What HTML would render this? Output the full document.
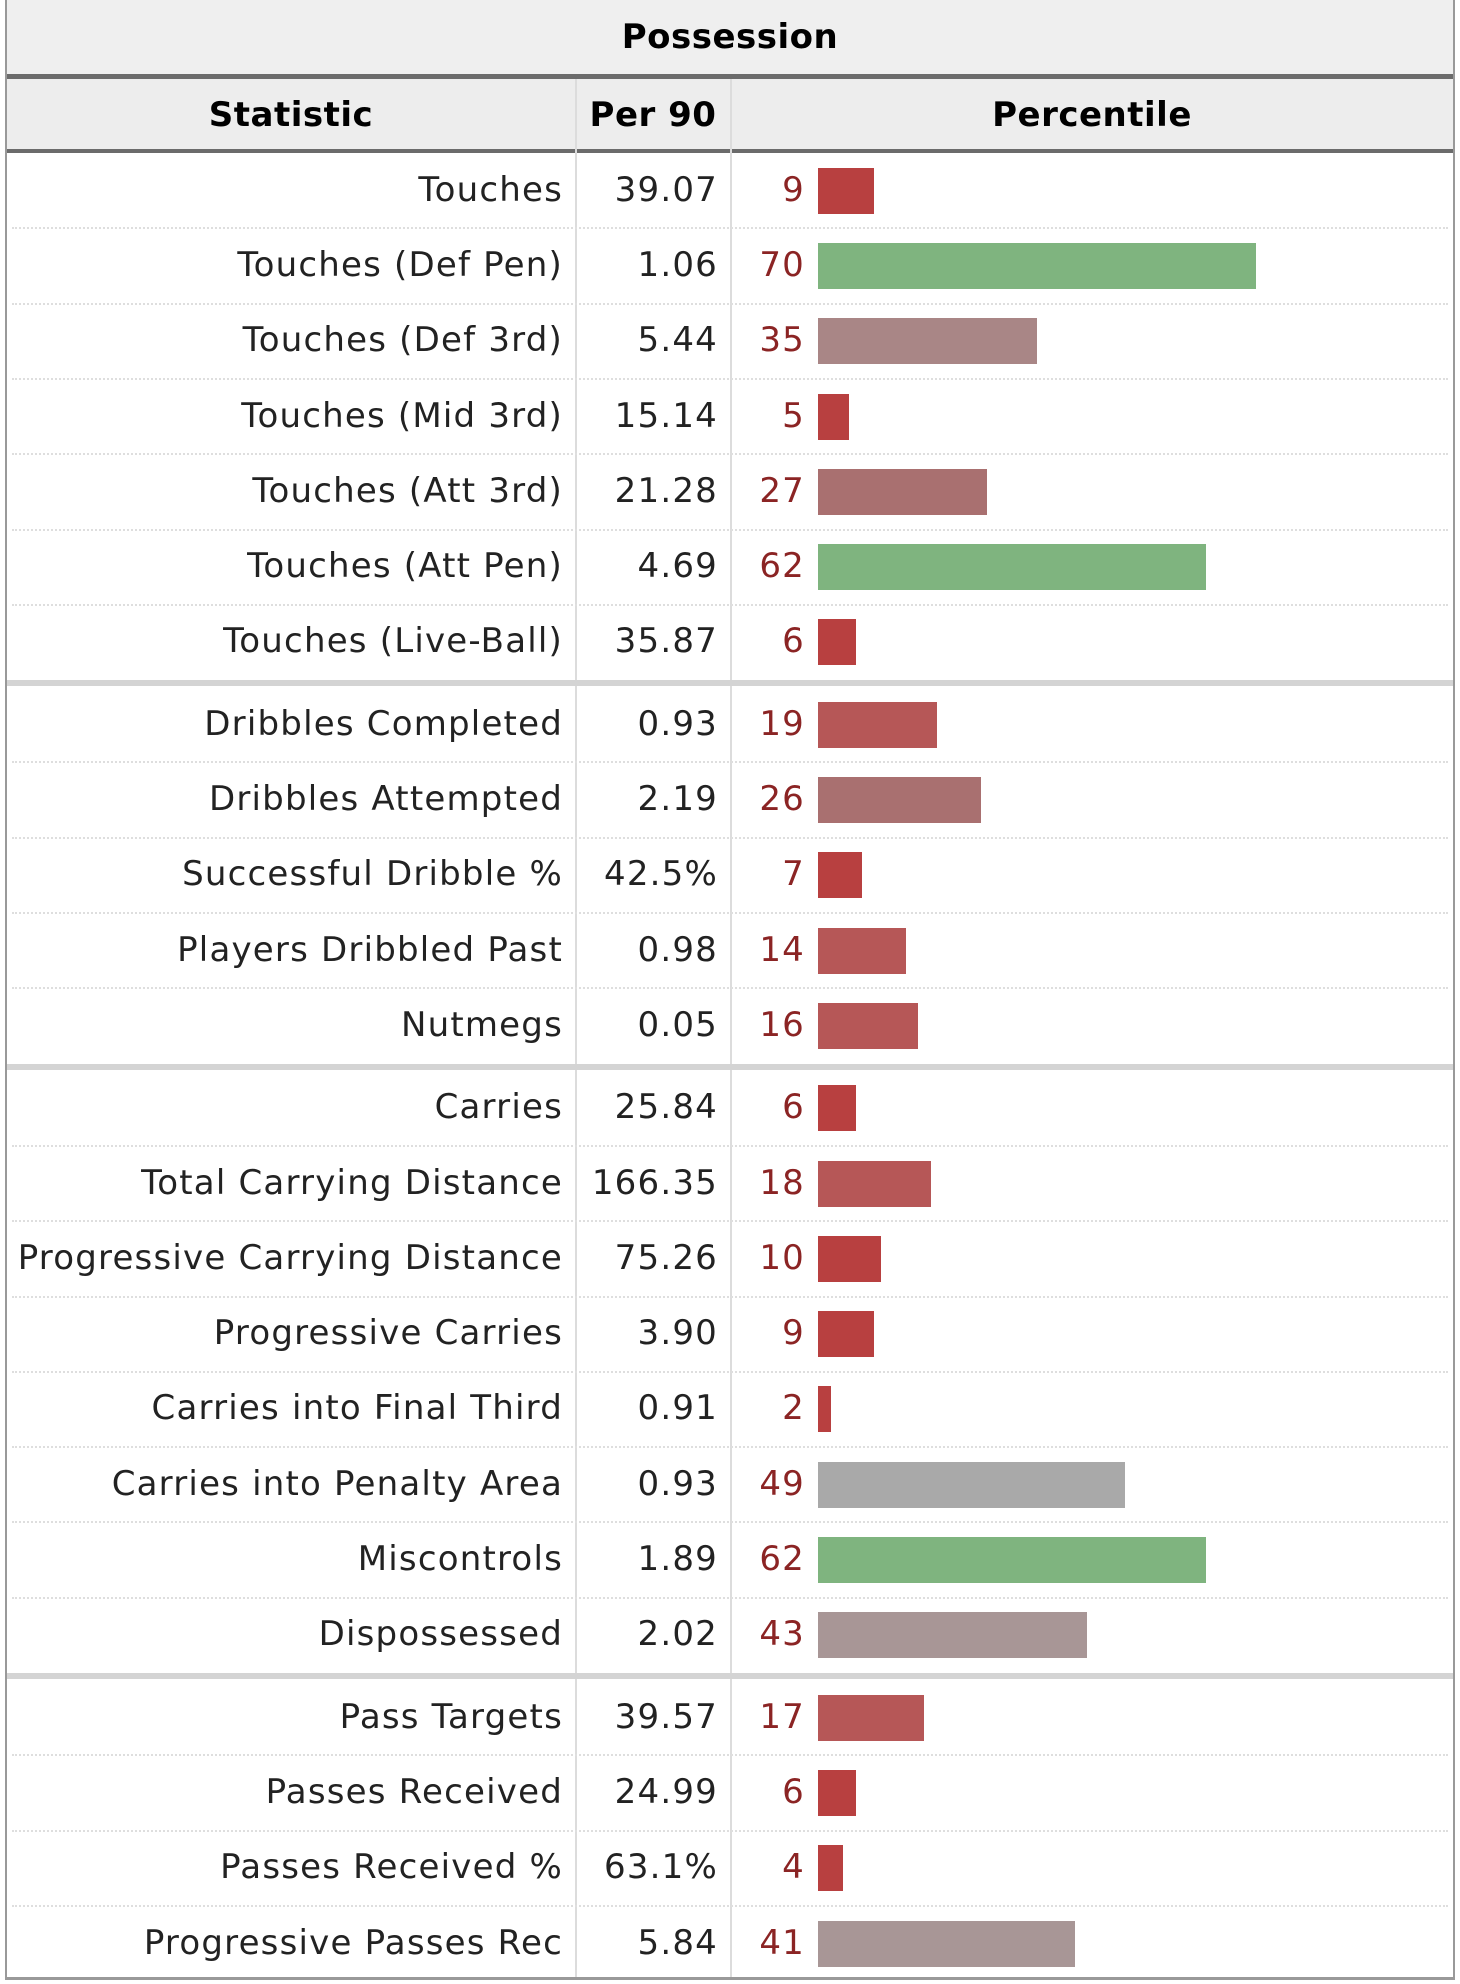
<!DOCTYPE html>
<html><head><meta charset="utf-8"><style>
html,body{margin:0;padding:0;background:#fff;}
#wrap{position:relative;width:1460px;height:1984px;overflow:hidden;font-family:"DejaVu Sans","Liberation Sans",sans-serif;}
.abs{position:absolute;}
.t{position:absolute;white-space:nowrap;font-size:34px;line-height:40px;letter-spacing:1.2px;}
</style></head><body>
<div id="wrap">
  <div class="abs" style="left:5px;top:0;width:1450px;height:1980px;border-left:2px solid #999;border-right:2px solid #999;border-bottom:3px solid #999;box-sizing:border-box"></div>
  <div class="abs" style="left:7px;top:0;width:1446px;height:74px;background:#efefef"></div>
  <div class="t" style="left:0;width:1460px;text-align:center;top:17px;font-weight:bold;letter-spacing:0.5px">Possession</div>
  <div class="abs" style="left:7px;top:74px;width:1446px;height:5px;background:#6b6b6b"></div>
  <div class="abs" style="left:7px;top:79px;width:1446px;height:70px;background:#ededed"></div>
  <div class="t" style="left:191px;width:200px;text-align:center;top:95px;font-weight:bold;letter-spacing:0.5px">Statistic</div>
  <div class="t" style="left:577px;width:152px;text-align:center;top:95px;font-weight:bold;letter-spacing:0.5px">Per 90</div>
  <div class="t" style="left:942px;width:300px;text-align:center;top:95px;font-weight:bold;letter-spacing:0.5px">Percentile</div>
  <div class="abs" style="left:7px;top:149px;width:1446px;height:4px;background:#6b6b6b"></div>
  <div class="abs" style="left:575px;top:79px;width:2px;height:1898px;background:#dcdcdc"></div>
  <div class="abs" style="left:730px;top:79px;width:2px;height:1898px;background:#dcdcdc"></div>
  <div id="rows"></div>
</div>
<script>
const stats = ["Touches","Touches (Def Pen)","Touches (Def 3rd)","Touches (Mid 3rd)","Touches (Att 3rd)","Touches (Att Pen)","Touches (Live-Ball)",
"Dribbles Completed","Dribbles Attempted","Successful Dribble %","Players Dribbled Past","Nutmegs",
"Carries","Total Carrying Distance","Progressive Carrying Distance","Progressive Carries","Carries into Final Third","Carries into Penalty Area","Miscontrols","Dispossessed",
"Pass Targets","Passes Received","Passes Received %","Progressive Passes Rec"];
const per90 = ["39.07","1.06","5.44","15.14","21.28","4.69","35.87",
"0.93","2.19","42.5%","0.98","0.05",
"25.84","166.35","75.26","3.90","0.91","0.93","1.89","2.02",
"39.57","24.99","63.1%","5.84"];
const percentile = [9,70,35,5,27,62,6, 19,26,7,14,16, 6,18,10,9,2,49,62,43, 17,6,4,41];
const groupSizes = [7,5,8,4];

function barX(p){ return 818 + p*6.26; }
function barColor(p){
  if(p>=55) return "#7fb47f";
  if(p>=47) return "#a9a9a9";
  if(p>=40) return "#a89696";
  if(p>=30) return "#a98686";
  if(p>=22) return "#a97070";
  if(p>=12) return "#b65757";
  return "#b84040";
}
const rowsEl = document.getElementById('rows');
const ROW_H = 75.3, SEP = 7;
let y = 153, idx = 0;
groupSizes.forEach((g, gi) => {
  if(gi>0){
    const s = document.createElement('div');
    s.className='abs';
    
    
    s.style.cssText = `left:7px;top:${y}px;width:1446px;height:${SEP-1}px;background:#d4d4d4`;
    rowsEl.appendChild(s);
    y += SEP;
  }
  for(let k=0;k<g;k++){
    const i = idx++;
    const cy = y + ROW_H/2;
    const row = document.createElement('div');
    
    
    const a = document.createElement('div');
    a.className='t';
    
    
    a.style.cssText = `right:${1460-563}px;top:${cy-21}px;color:#222;text-align:right`;
    a.textContent = stats[i];
    row.appendChild(a);
    const b = document.createElement('div');
    b.className='t';
    
    
    b.style.cssText = `right:${1460-718}px;top:${cy-21}px;color:#222;text-align:right`;
    b.textContent = per90[i];
    row.appendChild(b);
    const c = document.createElement('div');
    c.className='t';
    
    
    c.style.cssText = `right:${1460-805}px;top:${cy-21}px;color:#8b2424;text-align:right`;
    c.textContent = percentile[i];
    row.appendChild(c);
    const bar = document.createElement('div');
    bar.className='abs';
    
    
    const x0 = barX(0), x1 = barX(percentile[i]);
    bar.style.cssText = `left:${x0}px;top:${cy-23}px;width:${x1-x0}px;height:46px;background:${barColor(percentile[i])}`;
    row.appendChild(bar);
    if(k<g-1){
      const d = document.createElement('div');
      d.className='abs';
      
      
      d.style.cssText = `left:12px;top:${y+ROW_H-1}px;width:1436px;height:0;border-top:2px dotted #dedede`;
      row.appendChild(d);
    }
    rowsEl.appendChild(row);
    y += ROW_H;
  }
});
</script>
</body></html>
